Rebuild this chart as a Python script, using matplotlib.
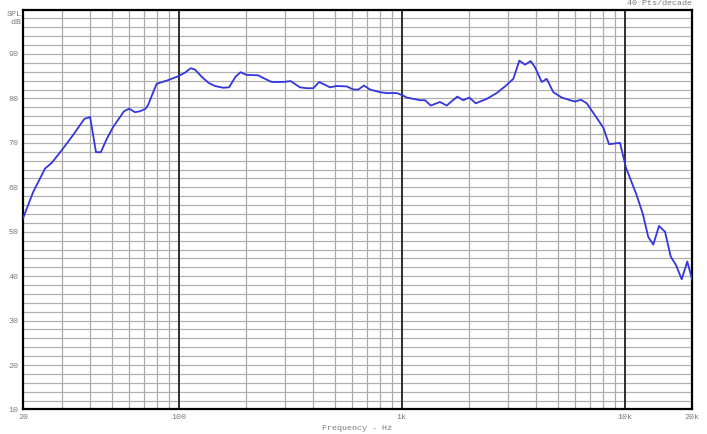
import matplotlib
matplotlib.use('Agg')
import matplotlib.pyplot as plt
from matplotlib.ticker import LogLocator, MultipleLocator, NullFormatter

freqHz = [20, 22.2, 25.1, 26.9, 29.8, 33.6, 37.7, 40.0, 42.5, 44.7, 47.5, 50.8,
          56.7, 59.9, 63.6, 66.9, 71.0, 72.9, 79.5, 88.2, 99.4, 106.6, 113, 118,
          127, 136, 145, 158, 168, 179, 189, 201, 227, 239, 261, 294, 317, 349,
          374, 401, 426, 476, 510, 566, 606, 638, 676, 720, 798, 855, 948, 1008,
          1051, 1206, 1270, 1347, 1483, 1589, 1772, 1886, 2006, 2144, 2401, 2662,
          2900, 3160, 3362, 3567, 3782, 3954, 4237, 4462, 4776, 5208, 5676, 5977,
          6358, 6744, 7345, 8005, 8489, 9509, 10116, 11298, 12020, 12735, 13412,
          14224, 15134, 16052, 16956, 17980, 19052, 20000]
splDb = [53.0, 58.9, 64.2, 65.5, 68.3, 71.8, 75.4, 75.8, 67.9, 67.9, 70.9, 73.6,
         77.1, 77.7, 76.9, 77.1, 77.7, 78.6, 83.3, 84.0, 85.0, 85.8, 86.8, 86.5,
         84.8, 83.5, 82.8, 82.4, 82.5, 84.8, 85.9, 85.3, 85.2, 84.6, 83.7, 83.7,
         83.9, 82.5, 82.3, 82.3, 83.7, 82.5, 82.8, 82.7, 82.0, 82.0, 82.9, 82.0,
         81.4, 81.2, 81.2, 80.7, 80.2, 79.6, 79.6, 78.4, 79.2, 78.4, 80.4, 79.6,
         80.2, 78.9, 79.9, 81.2, 82.7, 84.4, 88.5, 87.6, 88.4, 87.0, 83.7, 84.4,
         81.4, 80.2, 79.6, 79.3, 79.7, 78.9, 76.2, 73.4, 69.7, 70.0, 64.4, 58.2,
         54.1, 48.8, 47.1, 51.3, 50.0, 44.4, 42.5, 39.3, 43.3, 39.3]

xTicks = [20, 100, 1000, 10000, 20000]
xTickLabels = ['20', '100', '1k', '10k', '20k']
decades = [100, 1000, 10000]
yTicks = [10, 20, 30, 40, 50, 60, 70, 80, 90]

font = 'Liberation Mono'
textGray = '#7a7a7a'


def drawChart():
    fig = plt.figure(figsize=(7.07, 4.34), dpi=100)
    ax = fig.add_axes([0.0325, 0.0565, 0.9463, 0.9215])

    ax.set_xscale('log')
    ax.set_xlim(20, 20000)
    ax.set_ylim(10, 100)

    # grid: light lines every 2 dB and every log step
    ax.xaxis.set_minor_locator(LogLocator(base=10, subs=range(2, 10)))
    ax.xaxis.set_minor_formatter(NullFormatter())
    ax.yaxis.set_minor_locator(MultipleLocator(2))
    ax.grid(which='minor', axis='x', color='#a9a9a9', lw=0.9)
    ax.grid(which='both', axis='y', color='#b0b0b0', lw=0.9)
    ax.set_axisbelow(True)
    # dark decade lines on top of the light grid
    for d in decades:
        ax.axvline(d, color='#2e2e2e', lw=1.4, zorder=1)

    ax.set_xticks(xTicks)
    ax.set_xticklabels(xTickLabels, fontfamily=font)
    ax.set_yticks(yTicks)
    ax.set_yticklabels([str(v) for v in yTicks], fontfamily=font)
    ax.tick_params(which='both', length=0, labelsize=6, labelcolor=textGray)
    ax.tick_params(axis='x', pad=3)
    ax.tick_params(axis='y', pad=3)

    for s in ax.spines.values():
        s.set_color('black')
        s.set_linewidth(1.6)

    ax.plot(freqHz, splDb, color='#3535e0', lw=1.3, zorder=3)

    ax.set_xlabel('Frequency - Hz', fontsize=6, color=textGray,
                  fontfamily=font, labelpad=3)
    ax.text(1.0, 1.006, '40 Pts/decade', transform=ax.transAxes, ha='right',
            va='bottom', fontsize=6, color=textGray, fontfamily=font)
    fig.text(0.030, 1 - 11 / 434, 'SPL\n dB', ha='right', va='top', fontsize=6,
             color=textGray, fontfamily=font, linespacing=1.2)

    fig.savefig('out.png', dpi=100, facecolor='white')


drawChart()
